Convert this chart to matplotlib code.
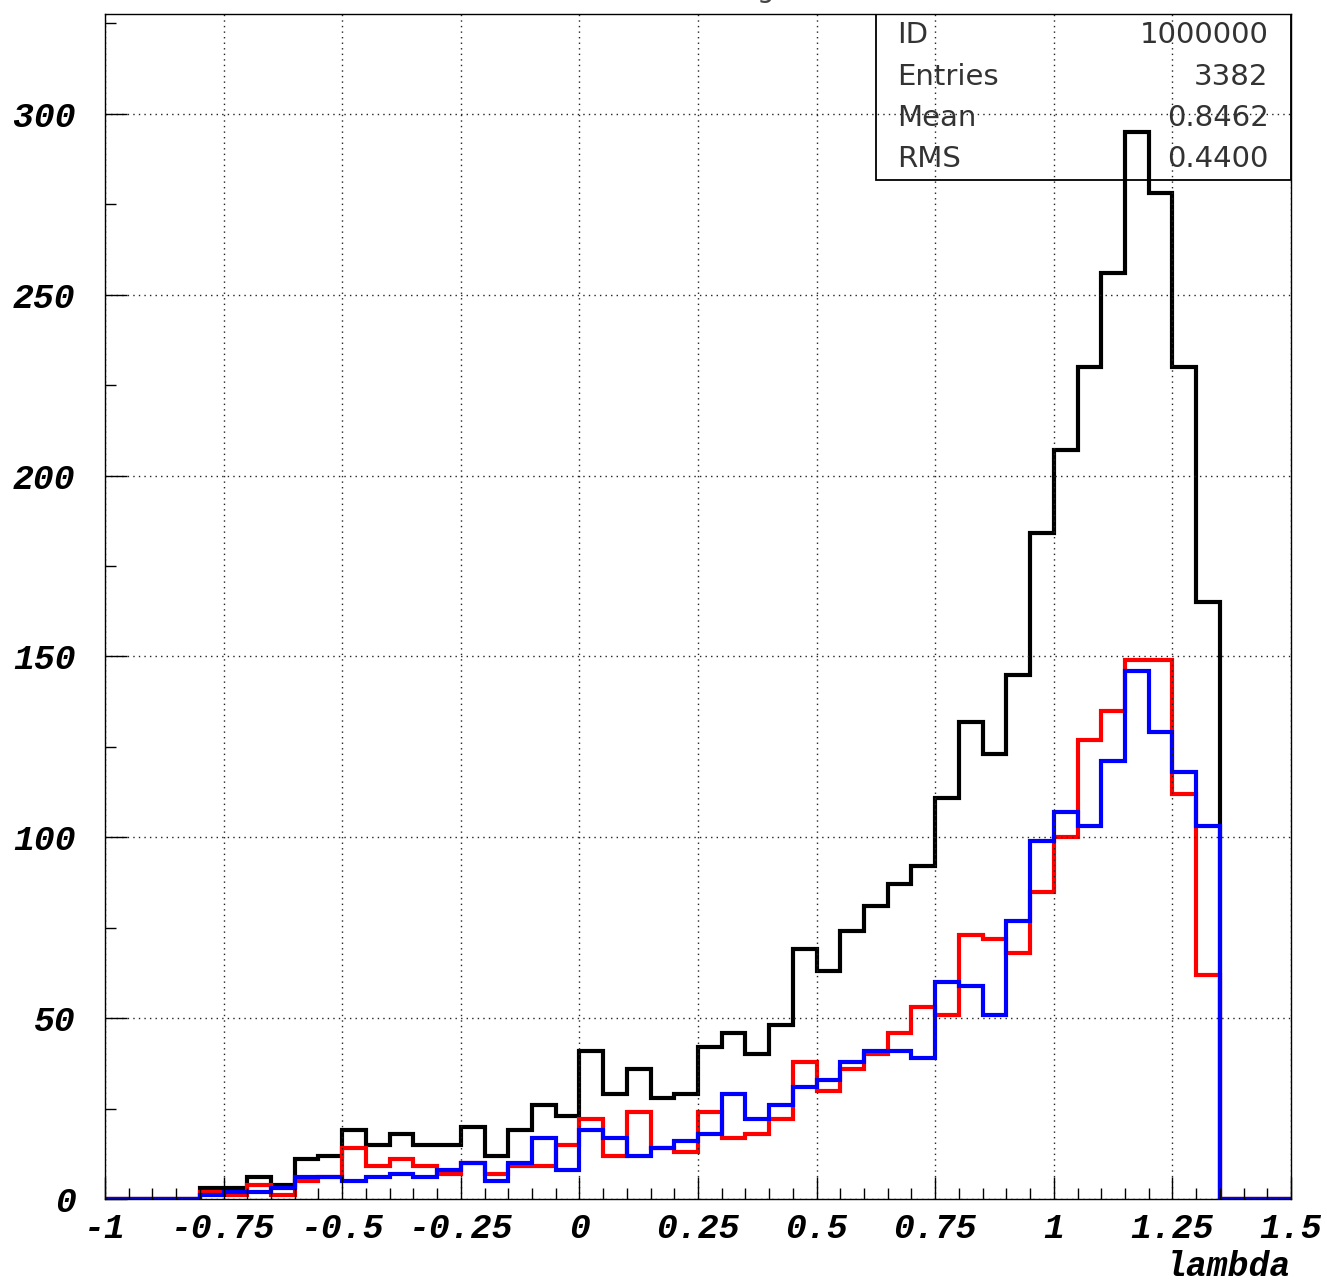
import numpy as np
import matplotlib.pyplot as plt
from matplotlib.patches import Rectangle
from matplotlib.ticker import MultipleLocator

# -------------------------------
# Data (50 bins of 0.05 from -1 to 1.5)
# -------------------------------
x_min, x_max, n_bins = -1.0, 1.5, 50

total_counts = [0, 0, 0, 0, 3, 3, 6, 4, 11, 12,
                19, 15, 18, 15, 15, 20, 12, 19, 26, 23,
                41, 29, 36, 28, 29, 42, 46, 40, 48, 69,
                63, 74, 81, 87, 92, 111, 132, 123, 145, 184,
                207, 230, 256, 295, 278, 230, 165, 0, 0, 0]

red_counts = [0, 0, 0, 0, 2, 1, 4, 1, 5, 6,
              14, 9, 11, 9, 7, 10, 7, 9, 9, 15,
              22, 12, 24, 14, 13, 24, 17, 18, 22, 38,
              30, 36, 40, 46, 53, 51, 73, 72, 68, 85,
              100, 127, 135, 149, 149, 112, 62, 0, 0, 0]

blue_counts = [0, 0, 0, 0, 1, 2, 2, 3, 6, 6,
               5, 6, 7, 6, 8, 10, 5, 10, 17, 8,
               19, 17, 12, 14, 16, 18, 29, 22, 26, 31,
               33, 38, 41, 41, 39, 60, 59, 51, 77, 99,
               107, 103, 121, 146, 129, 118, 103, 0, 0, 0]

x_ticks = [-1, -0.75, -0.5, -0.25, 0, 0.25, 0.5, 0.75, 1, 1.25, 1.5]
x_tick_labels = ["-1", "-0.75", "-0.5", "-0.25", "0", "0.25", "0.5",
                 "0.75", "1", "1.25", "1.5"]
y_ticks = [0, 50, 100, 150, 200, 250, 300]

stat_labels = ["ID", "Entries", "Mean", "RMS"]
stat_values = ["1000000", "3382", "0.8462", "0.4400"]

# -------------------------------
# Plot setup
# -------------------------------
tick_font = dict(family="Liberation Mono", weight="bold", style="italic", size=25)

fig = plt.figure(figsize=(13.27, 12.85), dpi=100)
ax = fig.add_axes([0.0791, 0.0669, 0.8938, 0.9222])

edges = np.linspace(x_min, x_max, n_bins + 1)
ax.stairs(total_counts, edges, baseline=0, color="black", linewidth=3)
ax.stairs(red_counts, edges, baseline=0, color="#ff0000", linewidth=3)
ax.stairs(blue_counts, edges, baseline=0, color="#0000ff", linewidth=3)

ax.set_xlim(x_min, x_max)
ax.set_ylim(0, 327.6)

ax.set_xticks(x_ticks)
ax.set_xticklabels(x_tick_labels, fontdict=tick_font)
ax.set_yticks(y_ticks)
ax.set_yticklabels([str(v) for v in y_ticks], fontdict=tick_font)
ax.xaxis.set_minor_locator(MultipleLocator(0.05))
ax.yaxis.set_minor_locator(MultipleLocator(25))

ax.tick_params(which="major", direction="in", length=16, width=1, pad=9)
ax.tick_params(which="minor", direction="in", length=8, width=1)
ax.tick_params(axis="y", which="major", pad=21)

ax.grid(True, which="major", color="#222222", linestyle=(0, (1, 3)), linewidth=1)

for spine in ax.spines.values():
    spine.set_linewidth(1)

ax.set_xlabel("lambda", loc="right", labelpad=4, **tick_font)

# -------------------------------
# Stats box
# -------------------------------
ax.add_patch(Rectangle((0.650, 0.860), 0.350, 0.140, transform=ax.transAxes,
                       fill=False, edgecolor="black", linewidth=1.3, zorder=5))
row_y = [0.982, 0.947, 0.912, 0.878]
for label, value, yy in zip(stat_labels, stat_values, row_y):
    ax.text(0.668, yy, label, transform=ax.transAxes, ha="left", va="center",
            fontsize=21, color="#333333", fontweight="normal")
    ax.text(0.981, yy, value, transform=ax.transAxes, ha="right", va="center",
            fontsize=21, color="#333333", fontweight="normal")

# title mostly cut off at the top edge (only a descender shows)
fig.text(0.577, 1.002, "g", ha="center", va="baseline", fontsize=20,
         color="#444444")

fig.savefig("out.png", dpi=100)
